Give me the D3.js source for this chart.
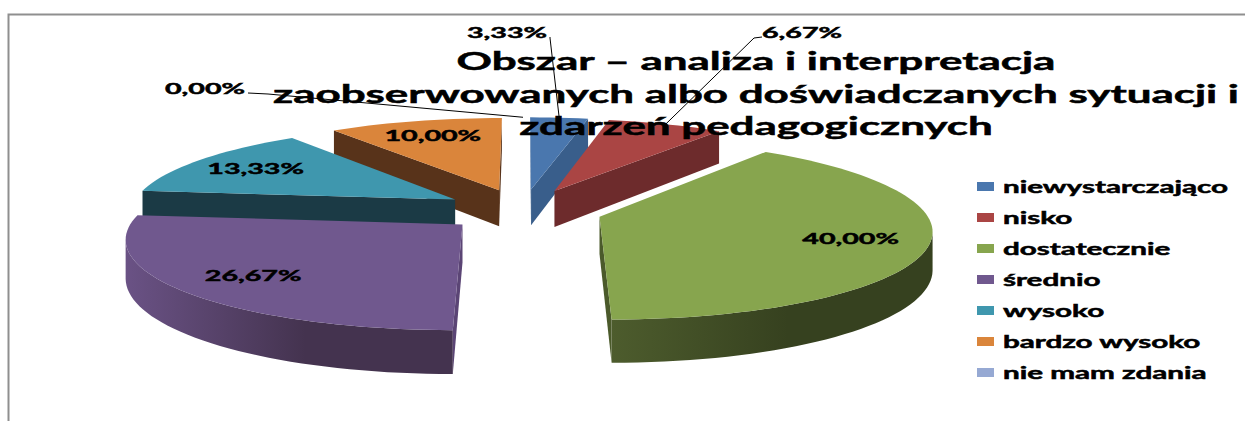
<!DOCTYPE html>
<html>
<head>
<meta charset="utf-8">
<script src="https://cdn.jsdelivr.net/npm/d3@7"></script>
<style>
  body { margin: 0; background: #fff; }
  svg { display: block; }
  text { font-family: Lato, "DejaVu Sans", sans-serif; font-weight: bold; fill: #000; stroke: #000; stroke-width: 0.5px; }
</style>
</head>
<body>
<svg id="chart" width="1245" height="421"></svg>
<script>
// data
var categories = ["niewystarczająco", "nisko", "dostatecznie", "średnio", "wysoko", "bardzo wysoko", "nie mam zdania"];
var shares = [3.33, 6.67, 40.00, 26.67, 13.33, 10.00, 0.00];
var valueLabels = ["3,33%", "6,67%", "40,00%", "26,67%", "13,33%", "10,00%", "0,00%"];
var titleLines = [
    "Obszar – analiza i interpretacja",
    "zaobserwowanych albo doświadczanych sytuacji i",
    "zdarzeń pedagogicznych"
];

// colours of the slices (top face, flat side faces, rounded rim light -> dark)
var topColors  = ["#4A77AE", "#AA4544", "#87A54E", "#70588E", "#3F97AE", "#DA853B", "#96A9D3"];
var faceColors = ["#395E8B", "#6D2B2C", "#4B5A2B", "#5B4575", "#1B3A45", "#58331A", "#6F84AE"];
var rimLight   = ["#3F6696", "#7A3233", "#4D5C2D", "#6A5285", "#2A5A68", "#7A4622", "#7F93BD"];
var rimDark    = ["#2E4C72", "#5A2424", "#36411F", "#44334F", "#1B3A45", "#58331A", "#61739A"];

var svg = d3.select("#chart");

// frame of the chart area
svg.append("path")
    .attr("d", "M8.5,421 V14.5 H1245")
    .attr("fill", "none")
    .attr("stroke", "#8f8f8f")
    .attr("stroke-width", 2);

/*
 * Simple perspective for a tilted pie: u goes right, v goes away from the viewer,
 * z = 0 on the top face and 1 on the bottom.
 */
var cx = 523, cy = 210, RX = 325, RY = 87, K = 0.135, H = 37, EXPLODE = 0.245;

function project(u, v, z) {
    var p = 1 / (1 + K * v);
    return [cx + RX * u * p, cy - RY * v * p + z * H * p];
}

function area(pts) {
    var s = 0;
    for (var i = 0; i < pts.length; i++) {
        var a = pts[i], b = pts[(i + 1) % pts.length];
        s += a[0] * b[1] - b[0] * a[1];
    }
    return s;
}

var line = d3.line();

var arcs = d3.pie().sort(null).value(function(d) { return d; })(shares);

arcs.forEach(function(a, i) {
    a.index = i;
    a.mid = (a.startAngle + a.endAngle) / 2;
    a.ex = EXPLODE * Math.sin(a.mid);
    a.ey = EXPLODE * Math.cos(a.mid);
});

function rim(a, t, z) { return project(a.ex + Math.sin(t), a.ey + Math.cos(t), z); }
function apex(a, z) { return project(a.ex, a.ey, z); }

var defs = svg.append("defs");
var pieG = svg.append("g");

// far slices first
var order = arcs.filter(function(a) { return a.value > 0; })
    .sort(function(a, b) { return Math.cos(b.mid) - Math.cos(a.mid); });

order.forEach(function(a) {
    var i = a.index;
    var g = pieG.append("g");
    var n = Math.max(2, Math.ceil((a.endAngle - a.startAngle) / (Math.PI / 90)));
    var angles = d3.range(n + 1).map(function(k) {
        return a.startAngle + (a.endAngle - a.startAngle) * k / n;
    });

    // flat faces along the two radii
    var startFace = [apex(a, 0), rim(a, a.startAngle, 0), rim(a, a.startAngle, 1), apex(a, 1)];
    var endFace = [apex(a, 0), rim(a, a.endAngle, 0), rim(a, a.endAngle, 1), apex(a, 1)];
    if (area(startFace) < 0) {
        g.append("path").attr("d", line(startFace) + "Z").attr("fill", faceColors[i]);
    }
    if (area(endFace) > 0) {
        g.append("path").attr("d", line(endFace) + "Z").attr("fill", faceColors[i]);
    }

    // rounded outer side: keep the segments that face the viewer
    var vis = [];
    for (var k = 0; k < n; k++) {
        var q = [rim(a, angles[k], 0), rim(a, angles[k + 1], 0), rim(a, angles[k + 1], 1), rim(a, angles[k], 1)];
        if (area(q) < 0) vis.push(k);
    }
    if (vis.length) {
        var sub = angles.slice(vis[0], vis[vis.length - 1] + 2);
        var topArc = sub.map(function(t) { return rim(a, t, 0); });
        var botArc = sub.map(function(t) { return rim(a, t, 1); }).reverse();
        var gid = "rim" + i;
        var grad = defs.append("linearGradient").attr("id", gid)
            .attr("x1", 0).attr("x2", 1).attr("y1", 0).attr("y2", 0);
        grad.append("stop").attr("offset", "0%").attr("stop-color", rimLight[i]);
        grad.append("stop").attr("offset", "55%").attr("stop-color", rimDark[i]);
        grad.append("stop").attr("offset", "100%").attr("stop-color", rimDark[i]);
        g.append("path").attr("d", line(topArc.concat(botArc)) + "Z").attr("fill", "url(#" + gid + ")");
    }

    // top face
    var top = [apex(a, 0)].concat(angles.map(function(t) { return rim(a, t, 0); }));
    g.append("path").attr("d", line(top) + "Z").attr("fill", topColors[i]);
});

// title
var titleG = svg.append("g");
var titleTexts = titleG.selectAll("text")
    .data(titleLines)
    .enter().append("text")
    .attr("x", 756)
    .attr("y", function(d, k) { return 70 + k * 32.5; })
    .attr("text-anchor", "middle")
    .attr("font-size", 25)
    .text(function(d) { return d; });
var titleStretch = 966 / titleTexts.nodes()[1].getComputedTextLength();
titleTexts.each(function() {
    d3.select(this).attr("textLength", this.getComputedTextLength() * titleStretch)
        .attr("lengthAdjust", "spacingAndGlyphs");
});

// data labels
var INSIDE_R = 0.77;
var outsideLabels = {
    0: {x: 507, y: 38, side: "right", elbow: 0},
    1: {x: 802, y: 38, side: "left", elbow: 8},
    6: {x: 205, y: 94, side: "right", elbow: 20}
};
var labelG = svg.append("g");
var labelStretch = null;

arcs.forEach(function(a) {
    var i = a.index;
    var t = labelG.append("text")
        .attr("font-size", 16)
        .attr("text-anchor", "middle")
        .text(valueLabels[i]);
    if (labelStretch === null) {
        labelStretch = 80 / t.node().getComputedTextLength();
    }
    var w = t.node().getComputedTextLength() * labelStretch;
    t.attr("textLength", w).attr("lengthAdjust", "spacingAndGlyphs");

    var o = outsideLabels[i];
    if (o) {
        t.attr("x", o.x).attr("y", o.y);
        var sx = o.side === "right" ? o.x + w / 2 + 3 : o.x - w / 2;
        var ex = o.side === "right" ? sx + o.elbow : sx - o.elbow;
        var end = rim(a, a.mid, 0);
        labelG.append("path")
            .attr("d", line([[sx, o.y - 1], [ex, o.y], end]))
            .attr("fill", "none")
            .attr("stroke", "#000")
            .attr("stroke-width", 1);
    } else {
        var p = project(a.ex + INSIDE_R * Math.sin(a.mid), a.ey + INSIDE_R * Math.cos(a.mid), 0);
        t.attr("x", p[0]).attr("y", p[1]).attr("dy", "0.36em");
    }
});

// legend
var legend = svg.append("g").attr("transform", "translate(977,186.5)");
var rows = legend.selectAll("g")
    .data(categories)
    .enter().append("g")
    .attr("transform", function(d, k) { return "translate(0," + (k * 31) + ")"; });
rows.append("rect")
    .attr("x", 0).attr("y", -4.5)
    .attr("width", 17).attr("height", 9)
    .attr("fill", function(d, k) { return topColors[k]; });
var legendTexts = rows.append("text")
    .attr("x", 26).attr("y", 6)
    .attr("font-size", 17)
    .text(function(d) { return d; });
var legendStretch = 225 / legendTexts.nodes()[0].getComputedTextLength();
legendTexts.each(function() {
    d3.select(this).attr("textLength", this.getComputedTextLength() * legendStretch)
        .attr("lengthAdjust", "spacingAndGlyphs");
});
</script>
</body>
</html>
